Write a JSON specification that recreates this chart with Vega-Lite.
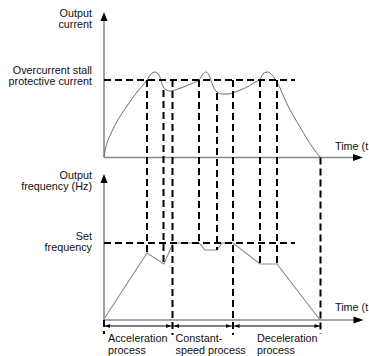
{
  "$schema": "https://vega.github.io/schema/vega-lite/v6.json",
  "width": 369,
  "height": 356,
  "padding": 0,
  "autosize": {"type": "none"},
  "background": "white",
  "config": {"view": {"stroke": null}},
  "datasets": {
    "axes": [
      {"t": 0, "v": 162.5, "t2": 0, "v2": 300},
      {"t": 0, "v": 162.5, "t2": 250, "v2": 162.5},
      {"t": 0, "v": 0, "t2": 0, "v2": 137},
      {"t": 0, "v": 0, "t2": 250, "v2": 0}
    ],
    "upArrows": [{"t": 0, "v": 303.5}, {"t": 0, "v": 141.5}],
    "rightArrows": [{"t": 254, "v": 162.5}, {"t": 254.5, "v": 0}],
    "current": [
      {"t": 0, "v": 163}, {"t": 1, "v": 169}, {"t": 3, "v": 177}, {"t": 6, "v": 184.5},
      {"t": 13, "v": 198.5}, {"t": 23, "v": 214}, {"t": 33, "v": 228}, {"t": 43, "v": 240}, {"t": 47, "v": 246},
      {"t": 51, "v": 248}, {"t": 55, "v": 245}, {"t": 58, "v": 236}, {"t": 61, "v": 231},
      {"t": 66, "v": 229}, {"t": 74, "v": 231}, {"t": 82, "v": 234}, {"t": 89, "v": 237},
      {"t": 95, "v": 240}, {"t": 99, "v": 246}, {"t": 102, "v": 248}, {"t": 105, "v": 245},
      {"t": 109, "v": 234}, {"t": 113, "v": 228}, {"t": 118, "v": 226}, {"t": 124, "v": 226},
      {"t": 131, "v": 228}, {"t": 141, "v": 232}, {"t": 150, "v": 237}, {"t": 156, "v": 241},
      {"t": 160, "v": 247}, {"t": 164, "v": 248}, {"t": 168, "v": 245}, {"t": 173, "v": 238},
      {"t": 183, "v": 216}, {"t": 196, "v": 193}, {"t": 209, "v": 172}, {"t": 216, "v": 163}
    ],
    "frequency": [
      {"t": 0, "v": 1}, {"t": 43, "v": 67}, {"t": 60, "v": 56}, {"t": 69, "v": 77},
      {"t": 95, "v": 77}, {"t": 101, "v": 70}, {"t": 113, "v": 70}, {"t": 118, "v": 77},
      {"t": 129, "v": 77}, {"t": 156, "v": 56}, {"t": 173, "v": 56}, {"t": 216, "v": 0}
    ],
    "dashed": [
      {"t": 0, "v": 240, "t2": 191, "v2": 240},
      {"t": 0, "v": 77, "t2": 191, "v2": 77},
      {"t": 43, "v": 240, "t2": 43, "v2": 67},
      {"t": 59.5, "v": 230, "t2": 59.5, "v2": 56},
      {"t": 68.5, "v": 240, "t2": 68.5, "v2": -15},
      {"t": 95, "v": 240, "t2": 95, "v2": 77},
      {"t": 113, "v": 227, "t2": 113, "v2": 70},
      {"t": 129, "v": 240, "t2": 129, "v2": -15},
      {"t": 156, "v": 240, "t2": 156, "v2": 56},
      {"t": 173, "v": 240, "t2": 173, "v2": 56},
      {"t": 216.5, "v": 162.5, "t2": 216.5, "v2": -14},
      {"t": 0, "v": 0, "t2": 0, "v2": -14}
    ],
    "spans": [{"t": 0, "v": -6, "t2": 216, "v2": -6}],
    "leftHeads": [{"t": 3.5, "v": -6}, {"t": 72.5, "v": -6}, {"t": 133, "v": -6}],
    "rightHeads": [{"t": 64.5, "v": -6}, {"t": 124.5, "v": -6}, {"t": 213, "v": -6}],
    "rightLabels": [
      {"t": -12, "v": 306.5, "text": "Output"},
      {"t": -12, "v": 295.5, "text": "current"},
      {"t": -12, "v": 249, "text": "Overcurrent stall"},
      {"t": -12, "v": 238, "text": "protective current"},
      {"t": -12, "v": 144.5, "text": "Output"},
      {"t": -12, "v": 133.5, "text": "frequency (Hz)"},
      {"t": -12, "v": 83, "text": "Set"},
      {"t": -12, "v": 72, "text": "frequency"}
    ],
    "leftLabels": [
      {"t": 231, "v": 173, "text": "Time (t"},
      {"t": 231, "v": 12.5, "text": "Time (t"},
      {"t": 4, "v": -19, "text": "Acceleration"},
      {"t": 4, "v": -31, "text": "process"},
      {"t": 71.5, "v": -19, "text": "Constant-"},
      {"t": 71.5, "v": -31, "text": "speed process"},
      {"t": 153, "v": -19, "text": "Deceleration"},
      {"t": 153, "v": -31, "text": "process"}
    ]
  },
  "layer": [
    {
      "data": {"name": "axes"},
      "mark": {"type": "rule", "color": "#8a8a8a", "strokeWidth": 1.6},
      "encoding": {
        "x": {"field": "t", "type": "quantitative", "scale": {"domain": [-104, 265], "nice": false, "zero": false}, "axis": null},
        "y": {"field": "v", "type": "quantitative", "scale": {"domain": [-36, 320], "nice": false, "zero": false}, "axis": null},
        "x2": {"field": "t2"},
        "y2": {"field": "v2"}
      }
    },
    {
      "data": {"name": "upArrows"},
      "mark": {"type": "point", "shape": "M0,-1L0.78,1L-0.78,1Z", "size": 81, "filled": true, "color": "#000000", "opacity": 1},
      "encoding": {
        "x": {"field": "t", "type": "quantitative", "scale": {"domain": [-104, 265], "nice": false, "zero": false}, "axis": null},
        "y": {"field": "v", "type": "quantitative", "scale": {"domain": [-36, 320], "nice": false, "zero": false}, "axis": null}
      }
    },
    {
      "data": {"name": "rightArrows"},
      "mark": {"type": "point", "shape": "M1,0L-1,-0.7L-1,0.7Z", "size": 100, "filled": true, "color": "#000000", "opacity": 1},
      "encoding": {
        "x": {"field": "t", "type": "quantitative", "scale": {"domain": [-104, 265], "nice": false, "zero": false}, "axis": null},
        "y": {"field": "v", "type": "quantitative", "scale": {"domain": [-36, 320], "nice": false, "zero": false}, "axis": null}
      }
    },
    {
      "data": {"name": "current"},
      "mark": {"type": "line", "interpolate": "monotone", "color": "#6e6e6e", "strokeWidth": 1},
      "encoding": {
        "x": {"field": "t", "type": "quantitative", "scale": {"domain": [-104, 265], "nice": false, "zero": false}, "axis": null},
        "y": {"field": "v", "type": "quantitative", "scale": {"domain": [-36, 320], "nice": false, "zero": false}, "axis": null}
      }
    },
    {
      "data": {"name": "frequency"},
      "mark": {"type": "line", "color": "#8a8a8a", "strokeWidth": 1.1},
      "encoding": {
        "x": {"field": "t", "type": "quantitative", "scale": {"domain": [-104, 265], "nice": false, "zero": false}, "axis": null},
        "y": {"field": "v", "type": "quantitative", "scale": {"domain": [-36, 320], "nice": false, "zero": false}, "axis": null}
      }
    },
    {
      "data": {"name": "dashed"},
      "mark": {"type": "rule", "color": "#000000", "strokeWidth": 2, "strokeDash": [7, 4]},
      "encoding": {
        "x": {"field": "t", "type": "quantitative", "scale": {"domain": [-104, 265], "nice": false, "zero": false}, "axis": null},
        "y": {"field": "v", "type": "quantitative", "scale": {"domain": [-36, 320], "nice": false, "zero": false}, "axis": null},
        "x2": {"field": "t2"},
        "y2": {"field": "v2"}
      }
    },
    {
      "data": {"name": "spans"},
      "mark": {"type": "rule", "color": "#000000", "strokeWidth": 1},
      "encoding": {
        "x": {"field": "t", "type": "quantitative", "scale": {"domain": [-104, 265], "nice": false, "zero": false}, "axis": null},
        "y": {"field": "v", "type": "quantitative", "scale": {"domain": [-36, 320], "nice": false, "zero": false}, "axis": null},
        "x2": {"field": "t2"},
        "y2": {"field": "v2"}
      }
    },
    {
      "data": {"name": "leftHeads"},
      "mark": {"type": "point", "shape": "M-1,0L1,-0.8L1,0.8Z", "size": 25, "filled": true, "color": "#000000", "opacity": 1},
      "encoding": {
        "x": {"field": "t", "type": "quantitative", "scale": {"domain": [-104, 265], "nice": false, "zero": false}, "axis": null},
        "y": {"field": "v", "type": "quantitative", "scale": {"domain": [-36, 320], "nice": false, "zero": false}, "axis": null}
      }
    },
    {
      "data": {"name": "rightHeads"},
      "mark": {"type": "point", "shape": "M1,0L-1,-0.8L-1,0.8Z", "size": 25, "filled": true, "color": "#000000", "opacity": 1},
      "encoding": {
        "x": {"field": "t", "type": "quantitative", "scale": {"domain": [-104, 265], "nice": false, "zero": false}, "axis": null},
        "y": {"field": "v", "type": "quantitative", "scale": {"domain": [-36, 320], "nice": false, "zero": false}, "axis": null}
      }
    },
    {
      "data": {"name": "rightLabels"},
      "mark": {"type": "text", "align": "right", "baseline": "middle", "font": "Liberation Sans", "fontSize": 10.8, "color": "#111111"},
      "encoding": {
        "x": {"field": "t", "type": "quantitative", "scale": {"domain": [-104, 265], "nice": false, "zero": false}, "axis": null},
        "y": {"field": "v", "type": "quantitative", "scale": {"domain": [-36, 320], "nice": false, "zero": false}, "axis": null},
        "text": {"field": "text", "type": "nominal"}
      }
    },
    {
      "data": {"name": "leftLabels"},
      "mark": {"type": "text", "align": "left", "baseline": "middle", "font": "Liberation Sans", "fontSize": 10.8, "color": "#111111"},
      "encoding": {
        "x": {"field": "t", "type": "quantitative", "scale": {"domain": [-104, 265], "nice": false, "zero": false}, "axis": null},
        "y": {"field": "v", "type": "quantitative", "scale": {"domain": [-36, 320], "nice": false, "zero": false}, "axis": null},
        "text": {"field": "text", "type": "nominal"}
      }
    }
  ]
}
